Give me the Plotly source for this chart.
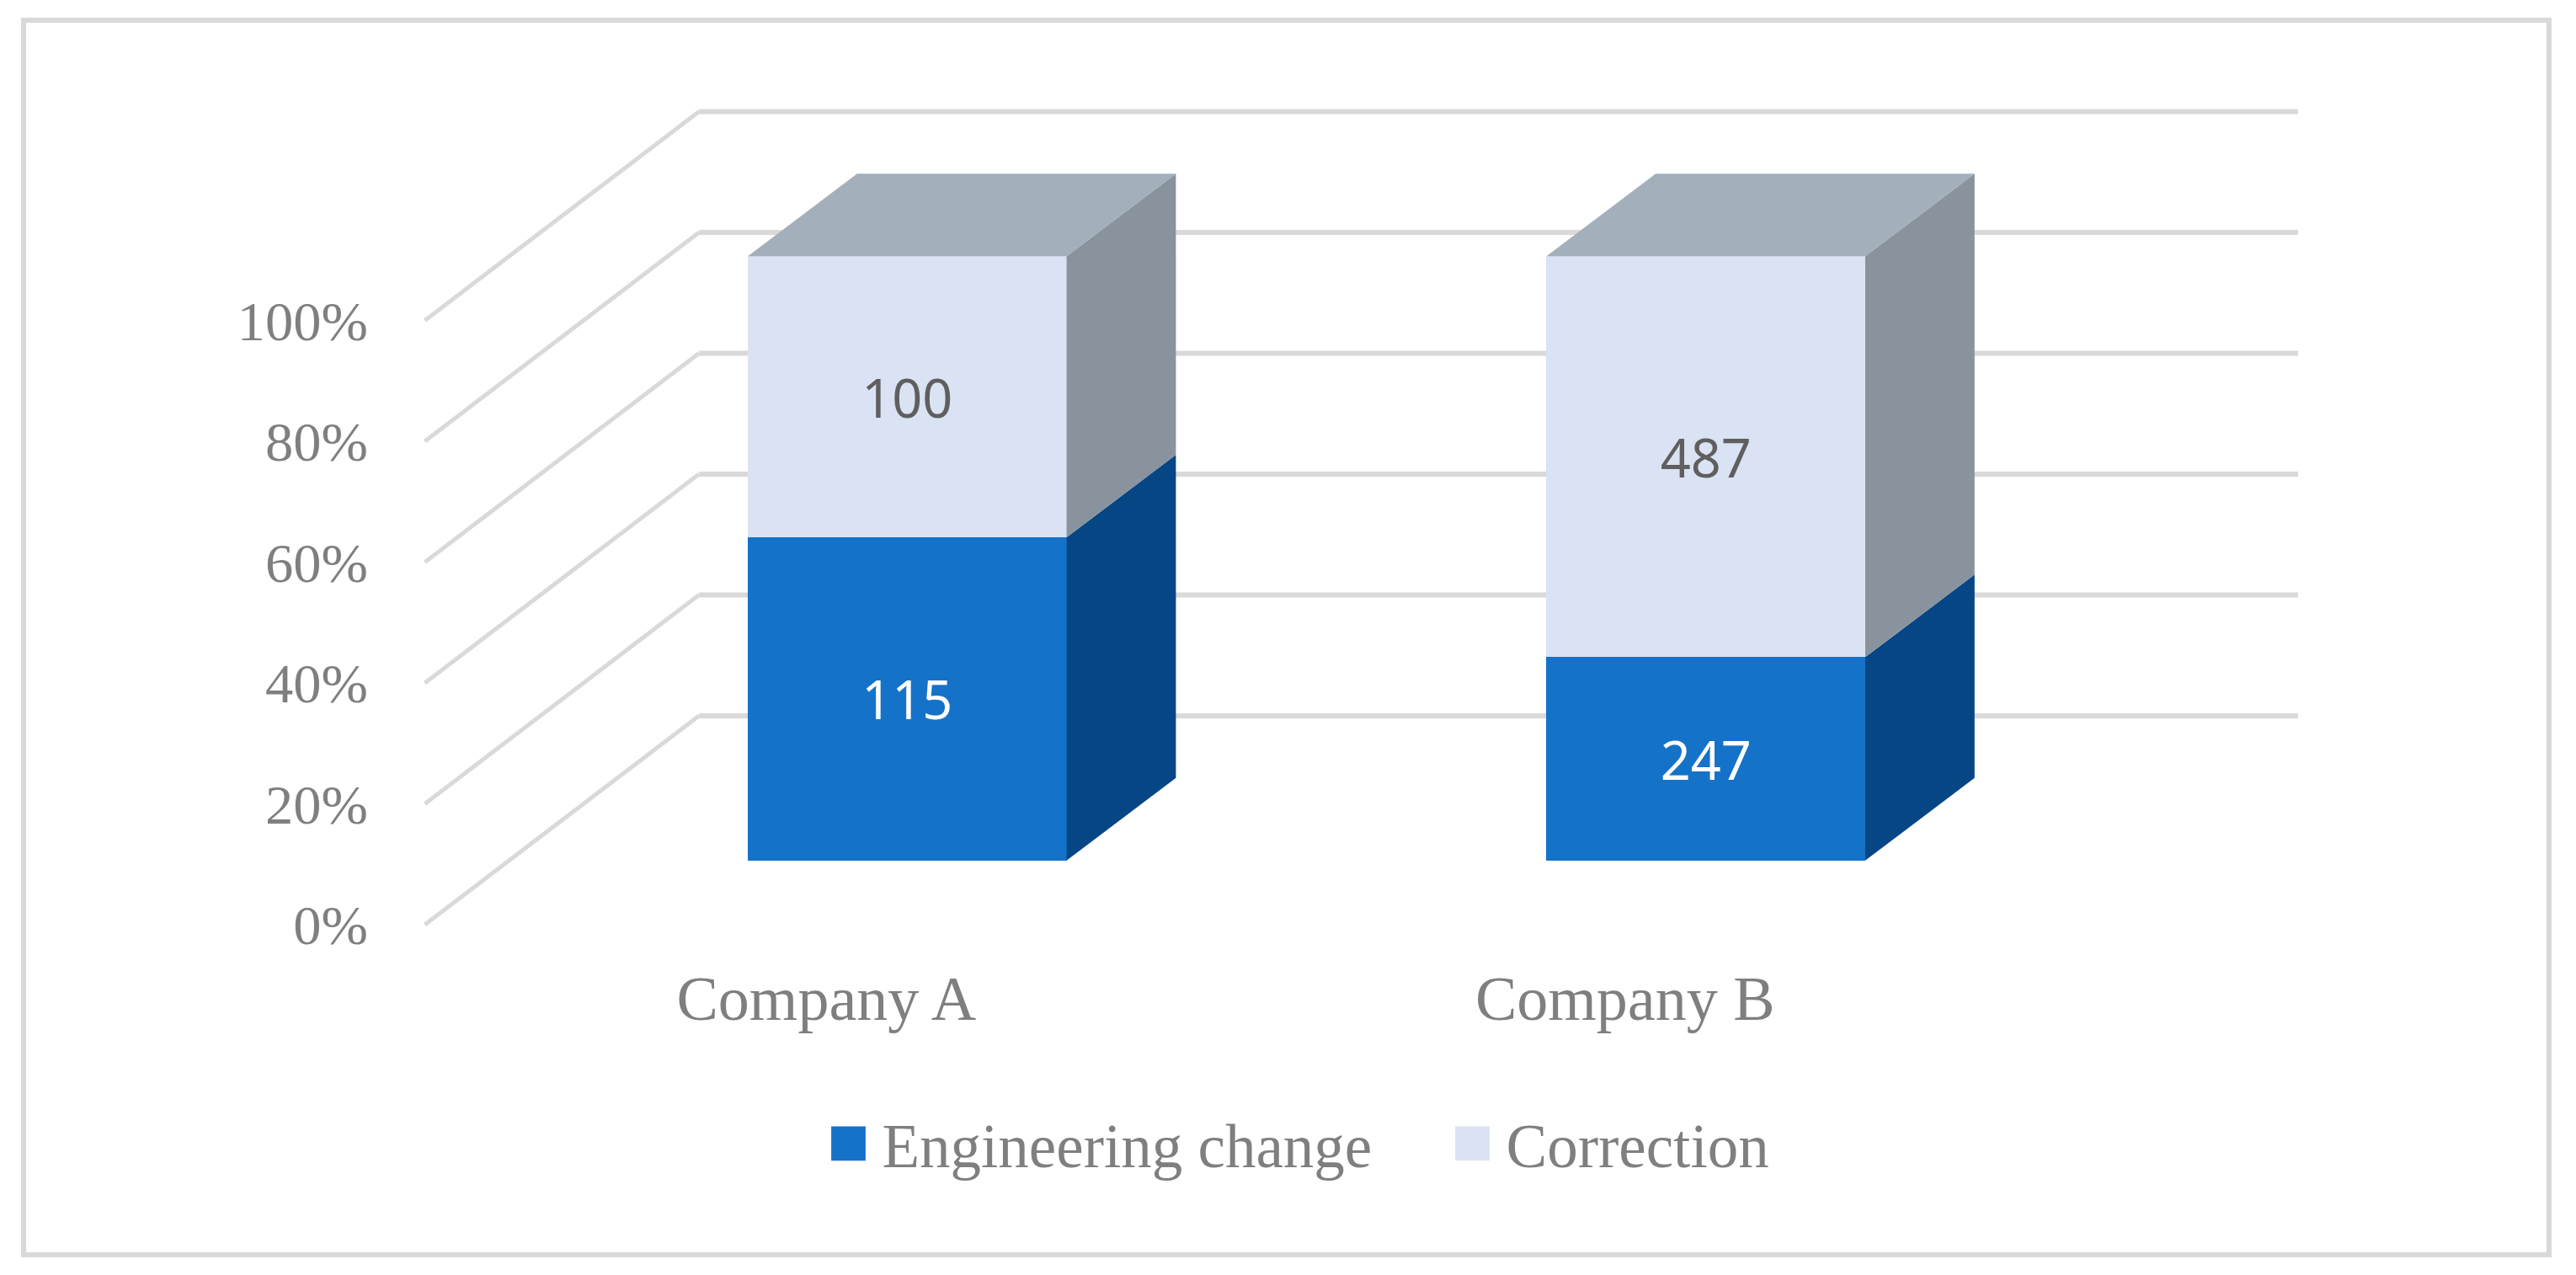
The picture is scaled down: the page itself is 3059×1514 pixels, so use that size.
import plotly.graph_objects as go

companies = ["Company A", "Company B"]
engineering_change = [115, 247]
correction = [100, 487]
pct_ticks = [0, 20, 40, 60, 80, 100]
pct_labels = ["0%", "20%", "40%", "60%", "80%", "100%"]

BLUE, BLUE_SIDE = "#1572C9", "#074685"
LIGHT, LIGHT_SIDE, LIGHT_TOP = "#DAE3F3", "#89939D", "#A3AFBB"
GRID = "#D9D9D9"
AXIS_TEXT = "#7F7F7F"
SERIF = "Liberation Serif"
SANS = "Noto Sans"

W, H = 3059, 1514
# scales: one x unit is the spacing between the two columns, y is in percent
PX_X = 948.4
PX_Y = 7.175
X0_PX = 1077.3
WALL_ZERO_PX = 1098.0
BAR_ZERO_PX = 1021.8

xrange_ = [-X0_PX / PX_X, (W - X0_PX) / PX_X]
wall_range = [-(H - WALL_ZERO_PX) / PX_Y, WALL_ZERO_PX / PX_Y]
bar_range = [-(H - BAR_ZERO_PX) / PX_Y, BAR_ZERO_PX / PX_Y]

WALL_LEFT = (504.5 - X0_PX) / PX_X
WALL_RIGHT = (2729 - X0_PX) / PX_X
WALL_DX = 325.5 / PX_X
WALL_DY = 248.0 / PX_Y
BAR_W = 378.6 / PX_X
BAR_DX = 129.8 / PX_X
BAR_DY = 98.0 / PX_Y

fig = go.Figure()

# side-wall gridlines (diagonal) and back-wall gridlines (horizontal)
for v in pct_ticks:
    fig.add_trace(go.Scatter(
        x=[WALL_LEFT, WALL_LEFT + WALL_DX],
        y=[v, v + WALL_DY],
        mode="lines", line=dict(color=GRID, width=5),
        showlegend=False, hoverinfo="skip", yaxis="y", xaxis="x",
    ))
    fig.add_trace(go.Scatter(
        x=[WALL_LEFT + WALL_DX, WALL_RIGHT],
        y=[v + WALL_DY, v + WALL_DY],
        mode="lines", line=dict(color=GRID, width=6),
        showlegend=False, hoverinfo="skip", yaxis="y", xaxis="x",
    ))

totals = [a + b for a, b in zip(engineering_change, correction)]
eng_pct = [100 * a / t for a, t in zip(engineering_change, totals)]
cor_pct = [100 * b / t for b, t in zip(correction, totals)]

fig.add_trace(go.Bar(
    x=[0, 1], y=eng_pct, name="Engineering change", yaxis="y2", xaxis="x",
    width=BAR_W, marker=dict(color=BLUE, line=dict(width=0)),
    text=engineering_change, textposition="inside", insidetextanchor="middle",
    textangle=0, constraintext="none",
    insidetextfont=dict(family=SANS, size=63, color="#FFFFFF"),
))
fig.add_trace(go.Bar(
    x=[0, 1], y=cor_pct, name="Correction", yaxis="y2", xaxis="x",
    width=BAR_W, marker=dict(color=LIGHT, line=dict(width=0)),
    text=correction, textposition="inside", insidetextanchor="middle",
    textangle=0, constraintext="none",
    insidetextfont=dict(family=SANS, size=63, color="#5F5F5F"),
))


def face(xs, ys, color):
    fig.add_trace(go.Scatter(
        x=xs, y=ys, mode="lines", fill="toself", fillcolor=color,
        line=dict(width=0, color=color), showlegend=False, hoverinfo="skip",
        yaxis="y2", xaxis="x",
    ))


for i in range(len(companies)):
    r = i + BAR_W / 2
    l = i - BAR_W / 2
    e, c = eng_pct[i], eng_pct[i] + cor_pct[i]
    face([r, r + BAR_DX, r + BAR_DX, r, r],
         [0, BAR_DY, e + BAR_DY, e, 0], BLUE_SIDE)
    face([r, r + BAR_DX, r + BAR_DX, r, r],
         [e, e + BAR_DY, c + BAR_DY, c, e], LIGHT_SIDE)
    face([l, l + BAR_DX, r + BAR_DX, r, l],
         [c, c + BAR_DY, c + BAR_DY, c, c], LIGHT_TOP)

fig.update_layout(
    width=W, height=H, autosize=False,
    margin=dict(l=0, r=0, t=0, b=0),
    paper_bgcolor="#FFFFFF", plot_bgcolor="rgba(0,0,0,0)",
    barmode="stack",
    xaxis=dict(
        range=xrange_, domain=[0, 1], anchor="free",
        position=(H - 1136) / H, side="bottom",
        tickmode="array", tickvals=[0, 1], ticktext=companies,
        ticklabelshift=-96, ticks="", showline=False, showgrid=False, zeroline=False,
        tickfont=dict(family=SERIF, size=74, color=AXIS_TEXT),
    ),
    yaxis=dict(
        range=wall_range, domain=[0, 1], anchor="free", position=437 / W, side="left",
        tickmode="array", tickvals=pct_ticks, ticktext=pct_labels, ticks="",
        showline=False, showgrid=False, zeroline=False,
        tickfont=dict(family=SERIF, size=66.5, color=AXIS_TEXT),
    ),
    yaxis2=dict(range=bar_range, overlaying="y", visible=False, anchor="x",
                showgrid=False, zeroline=False),
    legend=dict(
        orientation="h", x=(987.5 - 20) / W, xanchor="left", y=(H - 1358) / H, yanchor="middle",
        itemwidth=70, entrywidth=656, entrywidthmode="pixels",
        traceorder="normal", bgcolor="rgba(0,0,0,0)",
        font=dict(family=SERIF, size=73, color=AXIS_TEXT),
    ),
    shapes=[dict(
        type="rect", xref="paper", yref="paper", layer="below",
        x0=28 / W, x1=3027 / W, y0=(H - 1490) / H, y1=(H - 24) / H,
        line=dict(color=GRID, width=6), fillcolor="#FFFFFF",
    )],
)

post = """
document.documentElement.style.overflow='hidden';
document.body.style.margin='0';
function sw(){document.querySelectorAll('g.legendpoints path').forEach(function(p){
  var t=p.getAttribute('transform')||'';
  if(t.indexOf('scale')<0){p.setAttribute('transform',t+' scale(3.4)');}
});}
var gd=document.getElementById('{plot_id}');
sw(); setTimeout(sw,0); if(gd.on){gd.on('plotly_afterplot',sw);}
"""
fig.write_html("out.html", post_script=post, config=dict(displayModeBar=False))
